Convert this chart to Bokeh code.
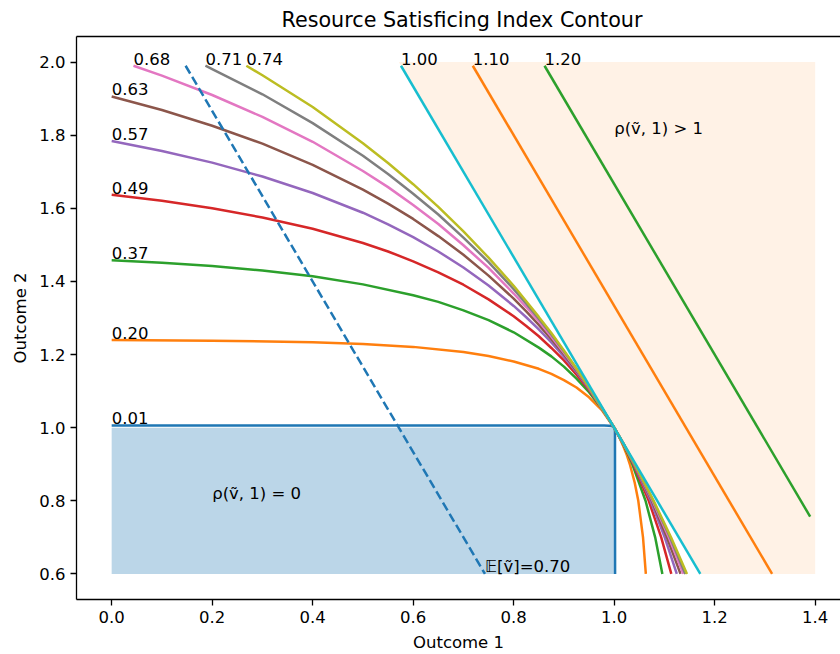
from bokeh.plotting import figure
from bokeh.models import Range1d, FixedTicker, LinearAxis, Label
from bokeh.core.properties import value
from bokeh.embed import file_html
from bokeh.resources import INLINE

# ---- data ----
levels = ["0.01", "0.20", "0.37", "0.49", "0.57", "0.63", "0.68", "0.71", "0.74"]
colors = ["#1f77b4", "#ff7f0e", "#2ca02c", "#d62728", "#9467bd",
          "#8c564b", "#e377c2", "#7f7f7f", "#bcbd22"]

c001_x = [0, 0.98, 0.99, 0.995, 1.0, 1.0012, 1.0016, 1.0018]
c001_y = [1.006, 1.006, 1.0055, 1.0045, 1.0, 0.995, 0.99, 0.6]

c020_x = [0, 0.2, 0.4, 0.5, 0.6, 0.7, 0.75, 0.8, 0.85, 0.875, 0.9, 0.925, 0.95, 0.975, 1.0,
          1.0098, 1.018, 1.0252, 1.0312, 1.0408, 1.048, 1.0574, 1.063]
c020_y = [1.240, 1.238, 1.234, 1.229, 1.221, 1.207, 1.196, 1.181, 1.161, 1.147, 1.130, 1.110,
          1.083, 1.049, 1.0, 0.975, 0.95, 0.925, 0.9, 0.85, 0.8, 0.7, 0.6]

c037_x = [0, 0.1, 0.2, 0.3, 0.4, 0.5, 0.6, 0.65, 0.7, 0.75, 0.8, 0.85, 0.875, 0.9, 0.925,
          0.95, 0.975, 1.0, 1.0103, 1.0196, 1.0283, 1.0362, 1.0624, 1.0816, 1.0959]
c037_y = [1.458, 1.451, 1.442, 1.430, 1.414, 1.392, 1.362, 1.344, 1.321, 1.294, 1.261,
          1.219, 1.195, 1.167, 1.134, 1.097, 1.053, 1.0, 0.975, 0.95, 0.925, 0.9, 0.8,
          0.7, 0.6]

c049_x = [0, 0.1, 0.2, 0.3, 0.4, 0.5, 0.55, 0.6, 0.65, 0.7, 0.75, 0.8, 0.825, 0.85, 0.875,
          0.9, 0.925, 0.95, 0.975, 1.0, 1.0104, 1.0202, 1.0382, 1.0688, 1.0936, 1.1137]
c049_y = [1.637, 1.621, 1.600, 1.575, 1.544, 1.505, 1.482, 1.455, 1.425, 1.391, 1.351,
          1.305, 1.278, 1.250, 1.218, 1.184, 1.145, 1.103, 1.055, 1.0, 0.975, 0.95, 0.9,
          0.8, 0.7, 0.6]

c057_x = [0, 0.1, 0.2, 0.3, 0.4, 0.5, 0.55, 0.6, 0.65, 0.7, 0.75, 0.8, 0.825, 0.85, 0.875,
          0.9, 0.925, 0.95, 1.0, 1.0205, 1.0393, 1.0725, 1.1006, 1.1246]
c057_y = [1.784, 1.757, 1.725, 1.687, 1.642, 1.588, 1.556, 1.521, 1.482, 1.438, 1.389,
          1.333, 1.302, 1.269, 1.233, 1.194, 1.152, 1.106, 1.0, 0.95, 0.9, 0.8, 0.7, 0.6]

c063_x = [0, 0.1, 0.2, 0.3, 0.4, 0.5, 0.55, 0.6, 0.65, 0.7, 0.75, 0.8, 0.825, 0.85, 0.875,
          0.9, 0.925, 0.95, 1.0, 1.021, 1.040, 1.075, 1.105, 1.132]
c063_y = [1.906, 1.869, 1.826, 1.777, 1.719, 1.651, 1.613, 1.571, 1.524, 1.473, 1.416,
          1.353, 1.318, 1.281, 1.242, 1.201, 1.156, 1.108, 1.0, 0.95, 0.9, 0.8, 0.7, 0.6]

c068_x = [0.0434, 0.1, 0.2, 0.3, 0.4, 0.5, 0.55, 0.6, 0.65, 0.7, 0.75, 0.8, 0.825, 0.85,
          0.875, 0.9, 0.925, 0.95, 1.0, 1.0208, 1.0405, 1.0765, 1.1087, 1.1376]
c068_y = [1.99, 1.963, 1.910, 1.850, 1.782, 1.702, 1.658, 1.609, 1.557, 1.499, 1.437,
          1.367, 1.330, 1.291, 1.249, 1.205, 1.159, 1.109, 1.0, 0.95, 0.9, 0.8, 0.7, 0.6]

c071_x = [0.1866, 0.2, 0.3, 0.4, 0.5, 0.55, 0.6, 0.65, 0.7, 0.75, 0.8, 0.825, 0.85, 0.875,
          0.9, 0.925, 0.95, 1.0, 1.0209, 1.0407, 1.0777, 1.1112, 1.1417]
c071_y = [1.99, 1.981, 1.912, 1.833, 1.744, 1.694, 1.640, 1.583, 1.520, 1.453, 1.379,
          1.339, 1.298, 1.255, 1.209, 1.161, 1.110, 1.0, 0.95, 0.9, 0.8, 0.7, 0.6]

c074_x = [0.268, 0.3, 0.4, 0.5, 0.55, 0.6, 0.65, 0.7, 0.75, 0.8, 0.825, 0.85, 0.875, 0.9,
          0.925, 0.95, 1.0, 1.021, 1.041, 1.0786, 1.1131, 1.1449]
c074_y = [1.99, 1.964, 1.877, 1.778, 1.724, 1.666, 1.604, 1.537, 1.465, 1.388, 1.346,
          1.303, 1.259, 1.211, 1.162, 1.111, 1.0, 0.95, 0.9, 0.8, 0.7, 0.6]

curves_x = [c001_x, c020_x, c037_x, c049_x, c057_x, c063_x, c068_x, c071_x, c074_x]
curves_y = [c001_y, c020_y, c037_y, c049_y, c057_y, c063_y, c068_y, c071_y, c074_y]

# straight contours (index above 1)
high_levels = ["1.00", "1.10", "1.20"]
high_colors = ["#17becf", "#ff7f0e", "#2ca02c"]
l100_x = [0.5757, 1.1714]
l100_y = [1.99, 0.6]
l110_x = [0.7186, 1.3143]
l110_y = [1.99, 0.6]
l120_x = [0.8614, 1.39]
l120_y = [1.99, 0.7567]
high_x = [l100_x, l110_x, l120_x]
high_y = [l100_y, l110_y, l120_y]

# expected value line
mean_label = "\U0001D53C[ṽ]=0.70"
mean_x = [0.1471, 0.7429]
mean_y = [1.99, 0.6]

# shaded regions
zero_x = [0, 1.0, 1.0, 0]
zero_y = [1.0, 1.0, 0.6, 0.6]
above_x = [0.5714, 1.4, 1.4, 1.1714]
above_y = [2.0, 2.0, 0.6, 0.6]

x_ticks = [0.0, 0.2, 0.4, 0.6, 0.8, 1.0, 1.2, 1.4]
x_tick_labels = ["0.0", "0.2", "0.4", "0.6", "0.8", "1.0", "1.2", "1.4"]
y_ticks = [0.6, 0.8, 1.0, 1.2, 1.4, 1.6, 1.8, 2.0]
y_tick_labels = ["0.6", "0.8", "1.0", "1.2", "1.4", "1.6", "1.8", "2.0"]

FONT = "DejaVu Sans"
FS = "16.5px"
LW = 2.5

p = figure(width=840, height=654, x_range=Range1d(-0.07, 1.4504),
           y_range=Range1d(0.53, 2.07), output_backend="svg",
           toolbar_location=None, min_border_left=76, min_border_right=0,
           min_border_top=35, min_border_bottom=54)
p.background_fill_color = "white"
p.border_fill_color = "white"
p.outline_line_color = None
p.grid.visible = False

p.title.text = "Resource Satisficing Index Contour"
p.title.text_font = FONT
p.title.text_font_size = "20.7px"
p.title.text_font_style = "normal"
p.title.text_color = "black"
p.title.align = "left"
p.title.offset = 205

xa = p.below[0]
ya = p.left[0]
for ax, ticks, labels in ((xa, x_ticks, x_tick_labels),
                          (ya, y_ticks, y_tick_labels)):
    ax.ticker = FixedTicker(ticks=ticks)
    ax.major_label_overrides = {t: l for t, l in zip(ticks, labels)}
    ax.major_tick_out = 6
    ax.major_tick_in = 0
    ax.minor_tick_line_color = None
    ax.major_tick_line_width = 1.3
    ax.major_tick_line_color = "black"
    ax.axis_line_width = 1.3
    ax.axis_line_color = "black"
    ax.major_label_text_font = FONT
    ax.major_label_text_font_size = FS
    ax.major_label_text_color = "black"
    ax.axis_label_text_font = FONT
    ax.axis_label_text_font_size = FS
    ax.axis_label_text_font_style = "normal"
    ax.axis_label_text_color = "black"
    ax.major_label_standoff = 5

xa.axis_label = "Outcome 1"
ya.axis_label = "Outcome 2"
xa.axis_label_standoff = 7
ya.axis_label_standoff = 6

# top spine
top = LinearAxis(ticker=FixedTicker(ticks=[]), major_label_text_font_size="0px",
                 major_tick_line_color=None, minor_tick_line_color=None,
                 major_tick_out=0, major_tick_in=0, major_label_standoff=0,
                 axis_line_color="black", axis_line_width=1.3)
p.add_layout(top, "above")

# shaded regions
p.patch(above_x, above_y, fill_color="#ff7f0e", fill_alpha=0.1, line_color=None)
p.patch(zero_x, zero_y, fill_color="#1f77b4", fill_alpha=0.3, line_color=None)

# contour curves
for lab, col, xs, ys in zip(levels, colors, curves_x, curves_y):
    p.line(xs, ys, line_color=col, line_width=LW)
for lab, col, xs, ys in zip(high_levels, high_colors, high_x, high_y):
    p.line(xs, ys, line_color=col, line_width=LW)

p.line(mean_x, mean_y, line_color="#1f77b4", line_width=LW, line_dash="9 4")

# contour labels at the start of each curve
lab_x = [xs[0] for xs in curves_x + high_x]
lab_y = [ys[0] for ys in curves_y + high_y]
lab_t = levels + high_levels
p.text(x=lab_x, y=lab_y, text=lab_t, text_font=value(FONT), text_font_size=FS,
       text_color="black", text_align="left", text_baseline="alphabetic",
       y_offset=-7)

p.text(x=[mean_x[1]], y=[mean_y[1]], text=[mean_label], text_font=value(FONT),
       text_font_size=FS, text_color="black", text_align="left",
       text_baseline="alphabetic", y_offset=-7)

p.add_layout(Label(x=0.2, y=0.8, text="ρ(ṽ, 1) = 0", text_font=FONT,
                   text_font_size=FS, text_color="black", text_baseline="alphabetic",
                   y_offset=7))
p.add_layout(Label(x=1.0, y=1.8, text="ρ(ṽ, 1) > 1", text_font=FONT,
                   text_font_size=FS, text_color="black", text_baseline="alphabetic",
                   y_offset=7))

open("out.html", "w").write(file_html(p, INLINE))
